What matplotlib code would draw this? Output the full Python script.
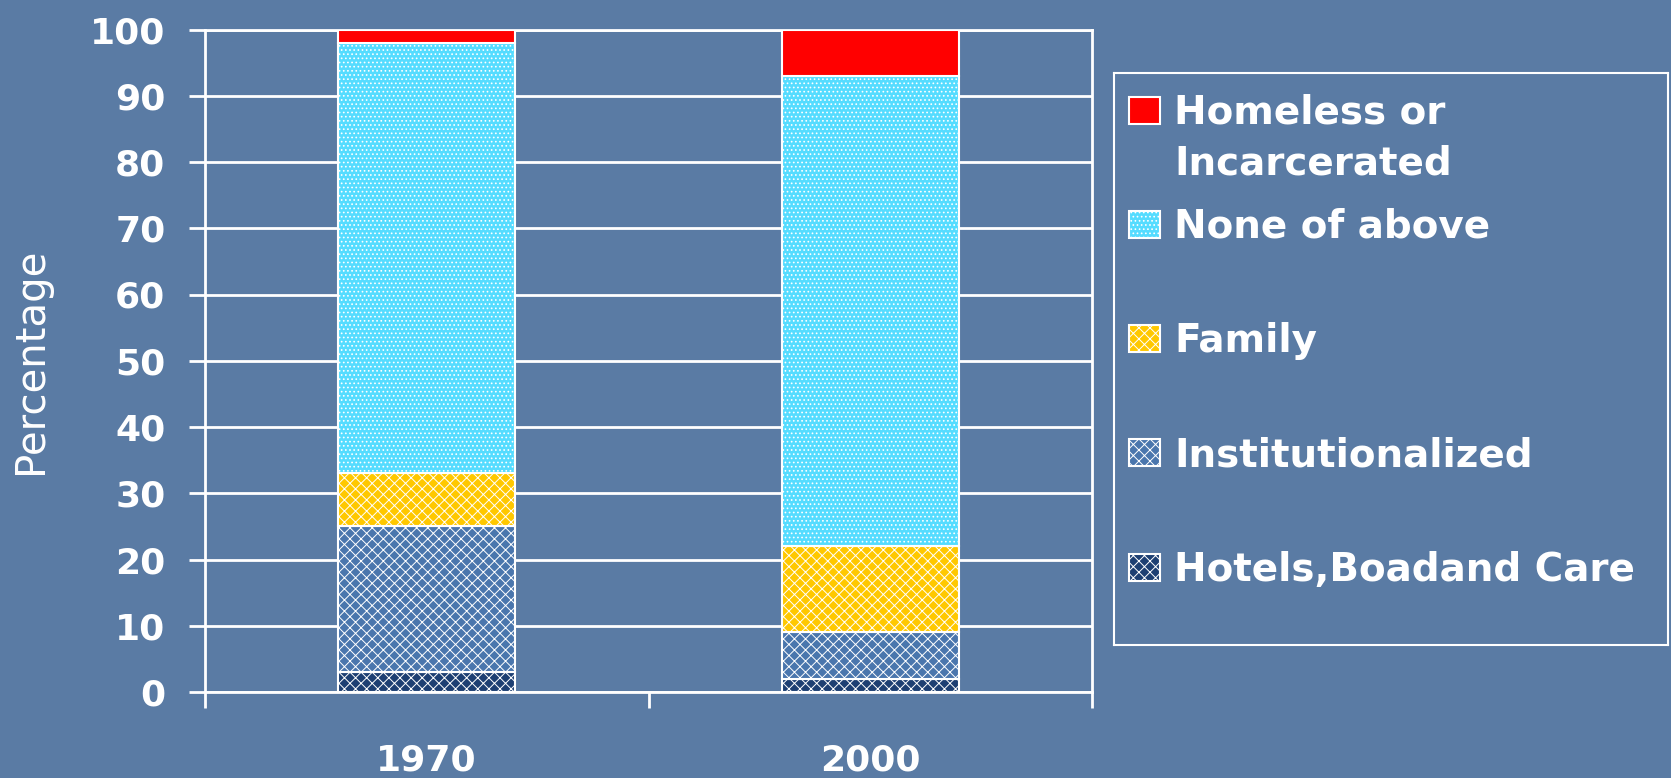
import numpy as np
import matplotlib.pyplot as plt
from matplotlib.patches import Rectangle

# data (percent)
years = ['1970', '2000']
hotels = [3, 2]
institutionalized = [22, 7]
family = [8, 13]
none_of_above = [65, 71]
homeless = [2, 7]

series = [hotels, institutionalized, family, none_of_above, homeless]
names = ['Hotels,Boadand Care', 'Institutionalized', 'Family', 'None of above',
         'Homeless or\nIncarcerated']
colors = ['#1d3f72', '#4a76ad', '#ffc800', '#55dcff', '#ff0000']
hatches = ['xxx', 'xxx', 'xxx', '....', None]

bg = '#5a7ba4'
W, H = 1671, 778
plt.rcParams['hatch.linewidth'] = 0.7
plt.rcParams['font.family'] = 'DejaVu Sans'

fig = plt.figure(figsize=(W / 100, H / 100), dpi=100, facecolor=bg)
ax = fig.add_axes([205 / W, 1 - 692 / H, (1092 - 205) / W, (692 - 29.5) / H])
ax.set_facecolor(bg)

x = np.arange(len(years))
bottom = np.zeros(len(years))
for vals, c, h in zip(series, colors, hatches):
    ax.bar(x, vals, 0.4, bottom=bottom, color=c, edgecolor='white',
           linewidth=1.5, hatch=h, zorder=3)
    bottom += vals

ax.set_xlim(-0.5, 1.5)
ax.set_ylim(0, 100)
ax.set_yticks(np.arange(0, 101, 10))
ax.grid(axis='y', color='white', linewidth=2, zorder=1)
ax.set_axisbelow(True)
for s in ax.spines.values():
    s.set_color('white')
    s.set_linewidth(2)

ax.tick_params(axis='y', colors='white', length=11.5, width=2, pad=17,
               labelsize=26)
for t in ax.get_yticklabels():
    t.set_fontweight('bold')

ax.set_xticks(x)
ax.set_xticklabels(years, fontsize=26, fontweight='bold', color='white')
ax.tick_params(axis='x', length=0, pad=37)
ax.set_xticks([-0.5, 0.5, 1.5], minor=True)
ax.tick_params(axis='x', which='minor', colors='white', length=11.5, width=2)

fig.text(31 / W, 1 - 361 / H, 'Percentage', rotation=90, fontsize=29,
         color='white', ha='center', va='center')

# legend box drawn by hand so the two-line entry sits like the original
lax = fig.add_axes([1114 / W, 1 - 645 / H, (1668 - 1114) / W, (645 - 73) / H])
lax.set_xlim(0, 554)
lax.set_ylim(572, 0)
lax.set_facecolor('none')
lax.set_xticks([])
lax.set_yticks([])
for s in lax.spines.values():
    s.set_color('white')
    s.set_linewidth(1.5)

entries = list(zip(names, colors, hatches))[::-1]
for i, (name, c, h) in enumerate(entries):
    yc = 37 + 114.3 * i
    lax.add_patch(Rectangle((15, yc - 13.5), 31, 27, facecolor=c,
                            edgecolor='white', linewidth=1.5, hatch=h))
    for j, line in enumerate(name.split('\n')):
        lax.text(60, yc + 13.5 + 51 * j, line, va='baseline', ha='left',
                 fontsize=28, fontweight='bold', color='white')

fig.savefig('out.png', dpi=100, facecolor=bg)
